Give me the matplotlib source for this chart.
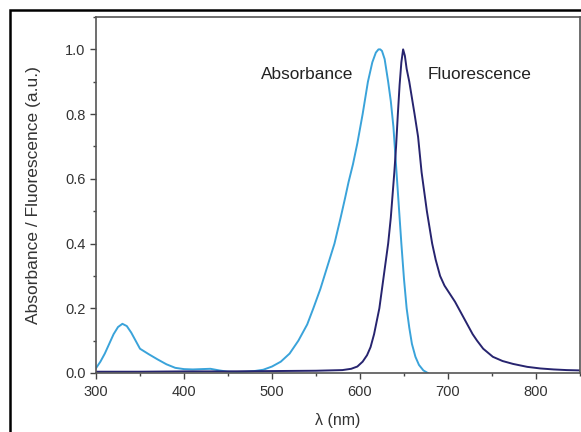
import matplotlib
matplotlib.use("Agg")
import matplotlib.pyplot as plt
from matplotlib.patches import Rectangle
from matplotlib.ticker import MultipleLocator

plt.rcParams['font.family'] = ['Liberation Sans', 'DejaVu Sans']

# absorbance spectrum (light blue)
abs_wl = [300, 305, 310, 315, 320, 325, 330, 335, 340, 345, 350, 360, 370, 380, 390, 400,
          410, 420, 430, 440, 450, 460, 470, 480, 490, 500, 510, 520, 530, 540, 547,
          555, 563, 571, 578, 583, 587, 592, 597, 603, 609, 614, 618, 621, 623, 625,
          628, 632, 635, 638, 642, 645, 647, 650, 653, 656, 659, 663, 667, 672, 677]
abs_val = [0.015, 0.035, 0.06, 0.09, 0.12, 0.142, 0.152, 0.145, 0.125, 0.1, 0.075, 0.058, 0.042,
           0.027, 0.016, 0.012, 0.011, 0.012, 0.013, 0.008, 0.004, 0.003, 0.004, 0.006,
           0.01, 0.02, 0.035, 0.06, 0.1, 0.15, 0.2, 0.26, 0.33, 0.4, 0.48, 0.54, 0.59,
           0.645, 0.71, 0.8, 0.9, 0.96, 0.99, 1.0, 1.0, 0.995, 0.97, 0.9, 0.84, 0.76, 0.6,
           0.48, 0.4, 0.29, 0.2, 0.14, 0.09, 0.05, 0.025, 0.008, 0.0]

# fluorescence spectrum (navy)
fl_wl = [300, 350, 400, 450, 500, 550, 580, 590, 597, 603, 608, 612, 616, 619, 622, 625,
         628, 632, 635, 637, 639, 641, 643, 645, 647, 649, 651, 653, 656, 659, 662, 666,
         670, 673, 676, 679, 682, 686, 691, 696, 702, 708, 714, 719, 723, 728, 733, 740,
         751, 762, 774, 790, 805, 820, 835, 850]
fl_val = [0.004, 0.004, 0.005, 0.005, 0.006, 0.007, 0.009, 0.013, 0.02, 0.035, 0.055, 0.08,
          0.12, 0.16, 0.2, 0.26, 0.32, 0.4, 0.48, 0.55, 0.62, 0.7, 0.8, 0.89, 0.96, 1.0,
          0.98, 0.94, 0.9, 0.85, 0.8, 0.73, 0.62, 0.56, 0.5, 0.45, 0.4, 0.35, 0.3, 0.27,
          0.245, 0.22, 0.19, 0.165, 0.145, 0.12, 0.1, 0.075, 0.05, 0.037, 0.028, 0.019,
          0.014, 0.011, 0.009, 0.008]

fig = plt.figure(figsize=(5.81, 4.32), dpi=100)
ax = fig.add_axes([96 / 581, 1 - 373 / 432, 484 / 581, 356 / 432])

ax.plot(abs_wl, abs_val, color='#3aa3da', lw=1.4)
ax.plot(fl_wl, fl_val, color='#27246f', lw=1.4)

ax.set_xlim(300, 850)
ax.set_ylim(0, 1.1)
ax.xaxis.set_major_locator(MultipleLocator(100))
ax.xaxis.set_minor_locator(MultipleLocator(50))
ax.yaxis.set_major_locator(MultipleLocator(0.2))
ax.yaxis.set_minor_locator(MultipleLocator(0.1))
ax.yaxis.set_major_formatter(matplotlib.ticker.FormatStrFormatter('%.1f'))
ax.tick_params(which='both', direction='out', colors='#444444', labelcolor='#333333',
               labelsize=10.5, width=1)
ax.tick_params(which='major', length=4)
ax.tick_params(which='minor', length=2.5)
ax.tick_params(axis='x', pad=5)
for s in ax.spines.values():
    s.set_color('#555555')
    s.set_linewidth(1.2)

ax.set_xlabel('λ (nm)', fontsize=11.5, color='#333333', labelpad=10)
ax.set_ylabel('Absorbance / Fluorescence (a.u.)', fontsize=12.5, color='#333333', labelpad=17)

ax.text(540, 0.922, 'Absorbance', fontsize=12.4, color='#222222', ha='center', va='center')
ax.text(736, 0.922, 'Fluorescence', fontsize=12.4, color='#222222', ha='center', va='center')

# outer black frame
fig.patches.append(Rectangle((10 / 581, -0.05), 1.0, 1 - 10 / 432 + 0.05,
                             transform=fig.transFigure, fill=False,
                             edgecolor='black', lw=1.8))

fig.savefig('out.png', dpi=100)
